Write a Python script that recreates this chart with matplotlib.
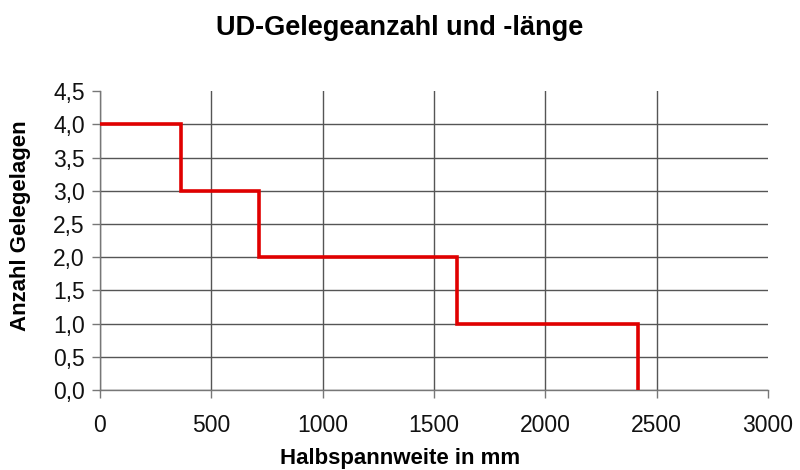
import matplotlib
matplotlib.use("Agg")
import matplotlib.pyplot as plt

plt.rcParams['font.family'] = ['Liberation Sans', 'DejaVu Sans']

# Data
x_steps = [0, 364, 714, 1603, 2416]
layers = [4, 3, 2, 1, 0]
x_ticks = [0, 500, 1000, 1500, 2000, 2500, 3000]
y_ticks = [0.0, 0.5, 1.0, 1.5, 2.0, 2.5, 3.0, 3.5, 4.0, 4.5]
y_tick_labels = ["0,0", "0,5", "1,0", "1,5", "2,0", "2,5", "3,0", "3,5", "4,0", "4,5"]
title = "UD-Gelegeanzahl und -länge"
xlabel = "Halbspannweite in mm"
ylabel = "Anzahl Gelegelagen"

fig = plt.figure(figsize=(8, 4.7), dpi=100)
ax = fig.add_axes([0.125, 0.170, 0.835, 0.636])

ax.plot(x_steps, layers, drawstyle='steps-post', color='#e00000', lw=2.6, zorder=3, solid_joinstyle='miter')

ax.set_xlim(0, 3000)
ax.set_ylim(0, 4.5)
ax.set_xticks(x_ticks)
ax.set_xticklabels([str(v) for v in x_ticks])
ax.set_yticks(y_ticks)
ax.set_yticklabels(y_tick_labels)

for s in ['top', 'right']:
    ax.spines[s].set_visible(False)
for s in ['left', 'bottom']:
    ax.spines[s].set_color('#777777')
    ax.spines[s].set_linewidth(1.0)

ax.grid(True, color='#555555', lw=1.0)
ax.set_axisbelow(True)
ax.tick_params(axis='both', direction='out', length=6, color='#777777', width=1.0,
               labelsize=16.5, labelcolor='#111111')
ax.tick_params(axis='x', pad=11)
ax.tick_params(axis='y', pad=5)

# hide top y grid line (4.5) and right x grid line (3000)
ax.yaxis.get_gridlines()[-1].set_visible(False)
ax.xaxis.get_gridlines()[-1].set_visible(False)

fig.text(0.5, 0.94, title, ha='center', va='center', fontsize=19.5, fontweight='bold')
fig.text(0.5, 0.024, xlabel, ha='center', va='center', fontsize=16, fontweight='bold')
fig.text(0.026, 0.52, ylabel, ha='center', va='center', rotation=90, fontsize=16, fontweight='bold')

fig.savefig("out.png", dpi=100)
